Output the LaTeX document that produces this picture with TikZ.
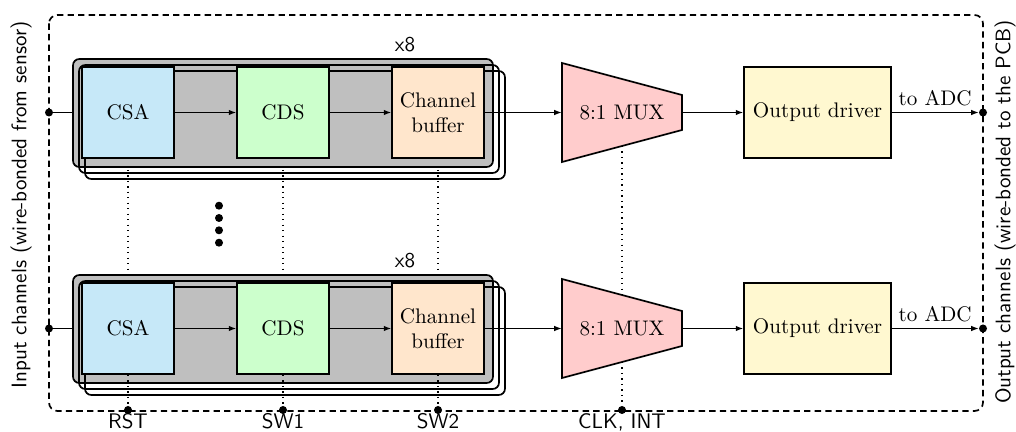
\documentclass[tikz,border=0pt]{standalone}
\usetikzlibrary{arrows.meta}
\newdimen\pxu \pxu=0.016667cm
\definecolor{csacol}{RGB}{198,232,248}
\definecolor{cdscol}{RGB}{204,255,204}
\definecolor{bufcol}{RGB}{255,230,204}
\definecolor{muxcol}{RGB}{255,204,204}
\definecolor{drvcol}{RGB}{255,248,208}
\pgfdeclarelayer{background}
\pgfsetlayers{background,main}
\begin{document}
\begin{tikzpicture}[x=0.016667cm,y=-0.016667cm,
  blk/.style={draw, line width=0.8pt, minimum width=92\pxu, minimum height=91\pxu, inner sep=0pt, align=center},
  stk/.style={draw, line width=0.8pt, rounded corners=3pt, minimum width=420\pxu, minimum height=108\pxu, inner sep=0pt},
  dotn/.style={circle, fill, inner sep=0pt, minimum size=8\pxu},
  arr/.style={-{Latex[length=3.5pt,width=2.6pt]}, line width=0.5pt},
  sig/.style={font=\sffamily, anchor=base, inner sep=0pt},
  dotline/.style={dotted, line width=0.6pt},
  muxshape/.style={draw, line width=0.8pt, fill=muxcol, line join=miter}]
\useasboundingbox (0,0) rectangle (1016,432);

% outer dashed border
\draw[dash pattern=on 3pt off 2pt, line width=0.8pt, rounded corners=4pt] (49,15) rectangle (983,411);

% side labels
\node[rotate=90, font=\sffamily] (inlbl) at (21,205) {Input channels (wire-bonded from sensor)};
\node[rotate=90, font=\sffamily] (outlbl) at (1005,212) {Output channels (wire-bonded to the PCB)};

\foreach \row/\dy in {1/0,2/216}{
  \begin{scope}[shift={(0,\dy)}]
    % stack of 8
    \node[stk, fill=gray!50] (st\row-a) at (283,113) {};
    \node[stk] (st\row-b) at (289,119) {};
    \node[stk] (st\row-c) at (295,125) {};
    \node[font=\sffamily] (x8\row) at (405,45) {x8};
    % input / output pads
    \node[dotn] (in\row) at (49,112.5) {};
    \node[dotn] (out\row) at (983,112.5) {};
    % blocks
    \node[blk, fill=csacol] (csa\row) at (128,112.5) {CSA};
    \node[blk, fill=cdscol] (cds\row) at (283,112.5) {CDS};
    \node[blk, fill=bufcol] (buf\row) at (438,112.5) {Channel\\buffer};
    \draw[muxshape] (562,63) -- (682,95) -- (682,130) -- (562,162) -- cycle;
    \node[inner sep=0pt, minimum width=120\pxu, minimum height=30\pxu] (mux\row) at (622,112.5) {8:1 MUX};
    \coordinate (mux\row-t) at (622,79);
    \coordinate (mux\row-b) at (622,146);
    \node[blk, fill=drvcol, minimum width=147\pxu] (drv\row) at (817.5,112.5) {Output driver};
    % connectors
    \begin{pgfonlayer}{background}
      \draw[line width=0.6pt] (in\row) -- (csa\row.west);
    \end{pgfonlayer}
    \draw[arr] (csa\row.east) -- (cds\row.west);
    \draw[arr] (cds\row.east) -- (buf\row.west);
    \draw[arr] (buf\row.east) -- (mux\row.west);
    \draw[arr] (mux\row.east) -- (drv\row.west);
    \draw[arr] (drv\row.east) -- node[above=3pt, inner sep=0pt] (adc\row) {to ADC} (out\row);
  \end{scope}
}

% vertical ellipsis
\foreach \yy [count=\i] in {205.7,218,230.3,242.7}
  \node[dotn] (vd\i) at (219,\yy) {};

% control signal pads
\node[dotn] (rst) at (128,410) {};
\node[dotn] (sw1) at (283,410) {};
\node[dotn] (sw2) at (438,410) {};
\node[dotn] (clk) at (622,410) {};
\node[sig] (rstl) at (128,429) {RST};
\node[sig] (sw1l) at (283,429) {SW1};
\node[sig] (sw2l) at (438,429) {SW2};
\node[sig] (clkl) at (622,429) {CLK, INT};

% dotted control lines
\begin{pgfonlayer}{background}
  \draw[dotline] (csa1.south) -- (csa2.north);
  \draw[dotline] (cds1.south) -- (cds2.north);
  \draw[dotline] (buf1.south) -- (buf2.north);
  \draw[dotline] (mux1-b) -- (mux2-t);
\end{pgfonlayer}
\draw[dotline] (csa2.south) -- (rst);
\draw[dotline] (cds2.south) -- (sw1);
\draw[dotline] (buf2.south) -- (sw2);
\draw[dotline] (mux2-b) -- (clk);
\end{tikzpicture}
\end{document}
